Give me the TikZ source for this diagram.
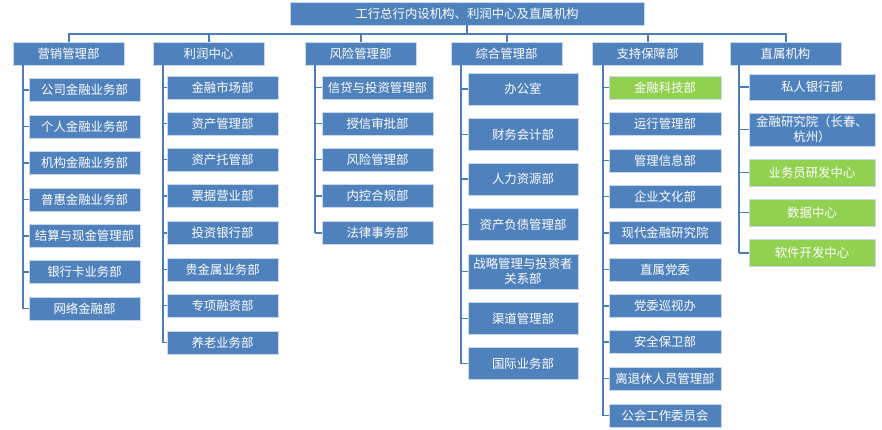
\documentclass[tikz,border=0pt]{standalone}
\usepackage{fontspec}
\setmainfont{Noto Sans CJK SC}
\definecolor{boxblue}{HTML}{4F81BD}
\definecolor{boxgreen}{HTML}{92D050}
\definecolor{boxedge}{HTML}{C9D8EC}
\definecolor{linecol}{HTML}{4A7DBA}
\tikzset{
  orgbox/.style={draw=boxedge, line width=0.7pt, fill=boxblue, text=white,
    inner sep=0pt, align=center, font=\fontsize{12.4}{14.5}\selectfont},
  greenbox/.style={orgbox, fill=boxgreen},
  busline/.style={draw=linecol, line width=2pt},
  trunkline/.style={draw=linecol, line width=2.6pt},
  tickline/.style={draw=linecol, line width=1.6pt},
}
\begin{document}
\begin{tikzpicture}[x=1pt,y=-1pt]
\useasboundingbox (0,0) rectangle (882,430);
% top
\node[orgbox, minimum width=354pt, minimum height=23pt] (top) at (467,13.5) {工行总行内设机构、利润中心及直属机构};
\coordinate (bus) at (467,34);
% level 1
\foreach \n/\x/\t in {L1/68.5/营销管理部, L2/208.5/利润中心, L3/360.5/风险管理部, L4/506.5/综合管理部, L5/647.5/支持保障部, L6/785.5/直属机构}
  \node[orgbox, minimum width=111pt, minimum height=23pt] (\n) at (\x,53.5) {\t};
\draw[busline] (top.south) -- (bus);
\draw[busline] (L1.north) -- (L1.north |- bus) -- (L6.north |- bus) -- (L6.north);
\foreach \n in {L2,L3,L4,L5}
  \draw[busline] (\n.north) -- (\n.north |- bus);
% column 1
\foreach \i/\y/\t in {1/90/公司金融业务部, 2/126.5/个人金融业务部, 3/163/机构金融业务部, 4/199.5/普惠金融业务部, 5/236/结算与现金管理部, 6/272/银行卡业务部, 7/308.5/网络金融部}
  \node[orgbox, minimum width=111pt, minimum height=23pt] (a\i) at (84.5,\y) {\t};
\coordinate (va) at (23,65);
\draw[trunkline] (va) -- (va |- a7.west);
\foreach \i in {1,...,7} \draw[tickline] (va |- a\i.west) -- (a\i.west);
% column 2
\foreach \i/\y/\t in {1/87.5/金融市场部, 2/123.5/资产管理部, 3/159.5/资产托管部, 4/196/票据营业部, 5/233/投资银行部, 6/269.5/贵金属业务部, 7/305.5/专项融资部, 8/342.5/养老业务部}
  \node[orgbox, minimum width=111pt, minimum height=23pt] (b\i) at (222.5,\y) {\t};
\coordinate (vb) at (163,65);
\draw[trunkline] (vb) -- (vb |- b8.west);
\foreach \i in {1,...,8} \draw[tickline] (vb |- b\i.west) -- (b\i.west);
% column 3
\foreach \i/\y/\t in {1/87.5/信贷与投资管理部, 2/123.5/授信审批部, 3/159.5/风险管理部, 4/196/内控合规部, 5/233/法律事务部}
  \node[orgbox, minimum width=111pt, minimum height=23pt] (c\i) at (377.5,\y) {\t};
\coordinate (vc) at (315,65);
\draw[trunkline] (vc) -- (vc |- c5.west);
\foreach \i in {1,...,5} \draw[tickline] (vc |- c\i.west) -- (c\i.west);
% column 4
\foreach \i/\y/\h/\t in {1/89/32/办公室, 2/134.5/32/财务会计部, 3/179/32/人力资源部, 4/224.5/32/资产负债管理部, 5/271.5/35/{战略管理与投资者\\关系部}, 6/318.5/32/渠道管理部, 7/363.5/32/国际业务部}
  \node[orgbox, minimum width=110pt, minimum height=\h pt] (d\i) at (523,\y) {\t};
\coordinate (vd) at (461,65);
\draw[trunkline] (vd) -- (vd |- d7.west);
\foreach \i in {1,...,7} \draw[tickline] (vd |- d\i.west) -- (d\i.west);
% column 5
\node[greenbox, minimum width=112pt, minimum height=23pt] (e1) at (665,87.5) {金融科技部};
\foreach \i/\y/\t in {2/123.5/运行管理部, 3/160.5/管理信息部, 4/196.5/企业文化部, 5/233/现代金融研究院, 6/269.5/直属党委, 7/306/党委巡视办, 8/342/安全保卫部, 9/378.5/离退休人员管理部, 10/415.5/公会工作委员会}
  \node[orgbox, minimum width=112pt, minimum height=23pt] (e\i) at (665,\y) {\t};
\coordinate (ve) at (603,65);
\draw[trunkline] (ve) -- (ve |- e10.west);
\foreach \i in {1,...,10} \draw[tickline] (ve |- e\i.west) -- (e\i.west);
% column 6
\node[orgbox, minimum width=126pt, minimum height=26pt] (f1) at (812,87) {私人银行部};
\node[orgbox, minimum width=126pt, minimum height=33pt] (f2) at (812,129.5) {金融研究院（长春、\\杭州）};
\node[greenbox, minimum width=126pt, minimum height=27pt] (f3) at (812,172.5) {业务员研发中心};
\node[greenbox, minimum width=126pt, minimum height=27pt] (f4) at (812,212.5) {数据中心};
\node[greenbox, minimum width=126pt, minimum height=27pt] (f5) at (812,253) {软件开发中心};
\coordinate (vf) at (739,65);
\draw[trunkline] (vf) -- (vf |- f5.west);
\foreach \i in {1,...,5} \draw[tickline] (vf |- f\i.west) -- (f\i.west);
\end{tikzpicture}
\end{document}
